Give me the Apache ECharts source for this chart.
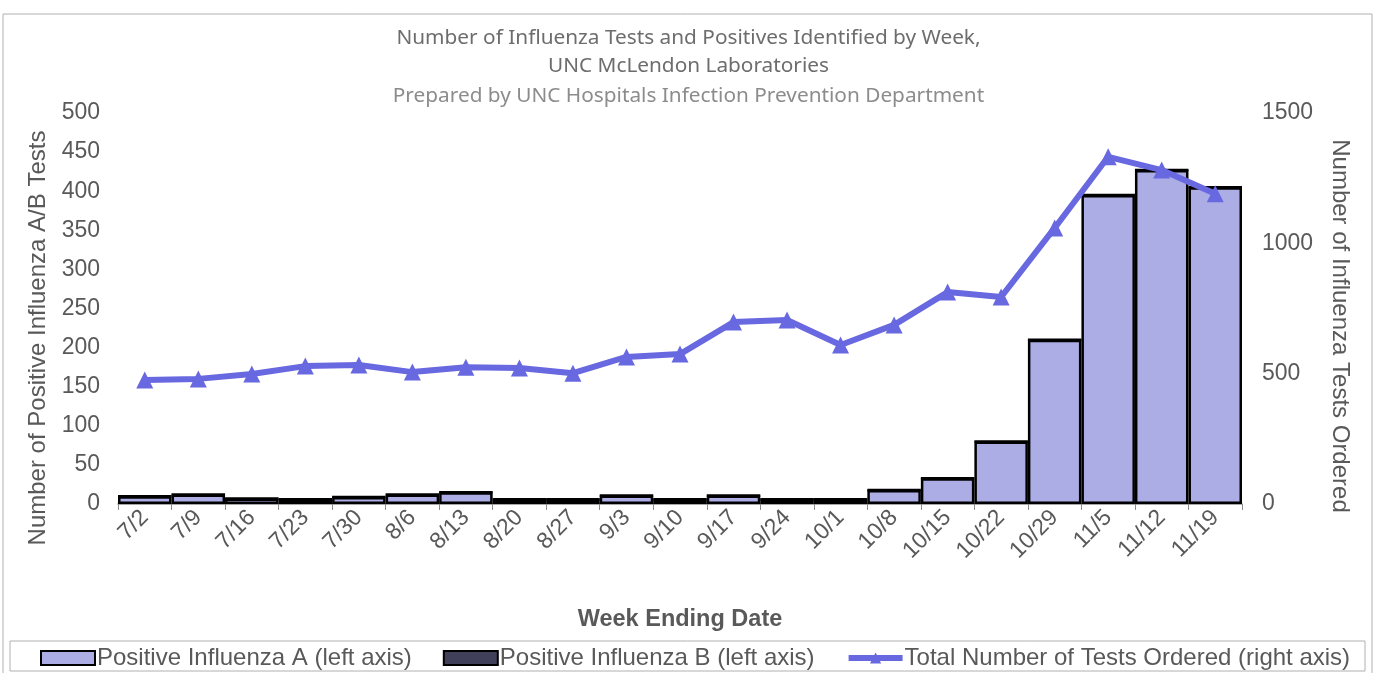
<!DOCTYPE html>
<html>
<head>
<meta charset="utf-8">
<script src="https://cdn.jsdelivr.net/npm/echarts@6/dist/echarts.min.js"></script>
<style>
  html, body { margin: 0; padding: 0; background: #fff; }
  #main { width: 1377px; height: 673px; }
</style>
</head>
<body>
<div id="main"></div>
<script>
// week ending dates
var weeks = ['7/2', '7/9', '7/16', '7/23', '7/30', '8/6', '8/13', '8/20', '8/27', '9/3', '9/10',
  '9/17', '9/24', '10/1', '10/8', '10/15', '10/22', '10/29', '11/5', '11/12', '11/19'];
var fluA = [10, 12, 7, 6, 9, 12, 15, 6, 6, 11, 6, 11, 6, 6, 18, 33, 80, 210, 395, 427, 405];
var fluB = [0, 0, 0, 0, 0, 0, 0, 0, 0, 0, 0, 0, 0, 0, 0, 0, 0, 0, 0, 0, 0];
var totalTests = [476, 480, 499, 529, 533, 506, 525, 522, 502, 564, 575, 698, 706, 610, 687, 813, 794, 1059, 1332, 1281, 1190];
var leftTicks = { min: 0, max: 500, interval: 50 };
var rightTicks = { min: 0, max: 1500, interval: 500 };

var gray = '#595959';
var font = '"Liberation Sans", Arial, sans-serif';
var lineColor = '#6868e0';

var myChart = echarts.init(document.getElementById('main'));
var option = {
  animation: false,
  textStyle: { fontFamily: font },
  title: {
    text: 'Number of Influenza Tests and Positives Identified by Week,\nUNC McLendon Laboratories',
    subtext: 'Prepared by UNC Hospitals Infection Prevention Department',
    left: 'center',
    top: 19,
    padding: [5, 5, 5, 20],
    itemGap: 2,
    textStyle: { fontFamily: '"Noto Sans", sans-serif', fontSize: 20.8, fontWeight: 'normal', color: '#6d6d6d', lineHeight: 28 },
    subtextStyle: { fontFamily: '"Noto Sans", sans-serif', fontSize: 20.8, color: '#8c8c8c', lineHeight: 28 }
  },
  grid: { left: 118, right: 135, top: 113, bottom: 169 },
  legend: {
    top: 646,
    left: 40,
    padding: 0,
    itemWidth: 54,
    itemHeight: 14,
    itemGap: 31,
    textStyle: { fontSize: 24, color: gray, fontFamily: font, padding: [0, 0, 0, -3] },
    data: [
      { name: 'Positive Influenza A (left axis)', icon: 'rect' },
      { name: 'Positive Influenza B (left axis)', icon: 'rect' },
      { name: 'Total Number of Tests Ordered (right axis)', lineStyle: { width: 6 } }
    ]
  },
  graphic: [
    { type: 'rect', shape: { x: 3, y: 14, width: 1369, height: 680 }, style: { fill: 'none', stroke: '#b0b0b0', lineWidth: 1 }, silent: true },
    { type: 'rect', shape: { x: 10, y: 641, width: 1355, height: 30 }, style: { fill: 'none', stroke: '#b0b0b0', lineWidth: 1 }, silent: true },
    {
      type: 'text', x: 38, y: 338, rotation: Math.PI / 2, silent: true,
      style: { text: 'Number of Positive Influenza A/B Tests', font: '24px "Liberation Sans", Arial, sans-serif', fill: gray, align: 'center', verticalAlign: 'middle' }
    },
    {
      type: 'text', x: 1340, y: 326, rotation: -Math.PI / 2, silent: true,
      style: { text: 'Number of Influenza Tests Ordered', font: '24px "Liberation Sans", Arial, sans-serif', fill: gray, align: 'center', verticalAlign: 'middle' }
    }
  ],
  xAxis: {
    type: 'category',
    data: weeks,
    name: 'Week Ending Date',
    nameLocation: 'middle',
    nameGap: 104,
    nameTextStyle: { fontSize: 23.5, fontWeight: 'bold', color: gray },
    axisLine: { lineStyle: { color: '#8c8c8c', width: 1.5 } },
    axisTick: { show: true, length: 6, lineStyle: { color: '#8c8c8c' } },
    axisLabel: { rotate: 45, fontSize: 23, color: gray, margin: 10 }
  },
  yAxis: [
    {
      type: 'value',
      min: leftTicks.min, max: leftTicks.max, interval: leftTicks.interval,
      splitLine: { show: false },
      axisLine: { show: false },
      axisTick: { show: false },
      axisLabel: { fontSize: 23, color: gray, margin: 18 }
    },
    {
      type: 'value',
      min: rightTicks.min, max: rightTicks.max, interval: rightTicks.interval,
      splitLine: { show: false },
      axisLine: { show: false },
      axisTick: { show: false },
      axisLabel: { fontSize: 23, color: gray, margin: 20, formatter: function (v) { return String(v); } }
    }
  ],
  series: [
    {
      name: 'Positive Influenza A (left axis)',
      type: 'bar',
      stack: 'pos',
      data: fluA,
      barCategoryGap: '0%',
      itemStyle: { color: '#adade6', borderColor: '#000', borderWidth: 2.5 }
    },
    {
      name: 'Positive Influenza B (left axis)',
      type: 'bar',
      stack: 'pos',
      data: fluB,
      barCategoryGap: '0%',
      itemStyle: { color: '#40405a', borderColor: '#000', borderWidth: 2.5 }
    },
    {
      name: 'Total Number of Tests Ordered (right axis)',
      type: 'line',
      yAxisIndex: 1,
      data: totalTests,
      symbol: 'triangle',
      symbolSize: 17,
      lineStyle: { color: lineColor, width: 6 },
      itemStyle: { color: lineColor },
      z: 5
    }
  ]
};
myChart.setOption(option);
</script>
</body>
</html>
